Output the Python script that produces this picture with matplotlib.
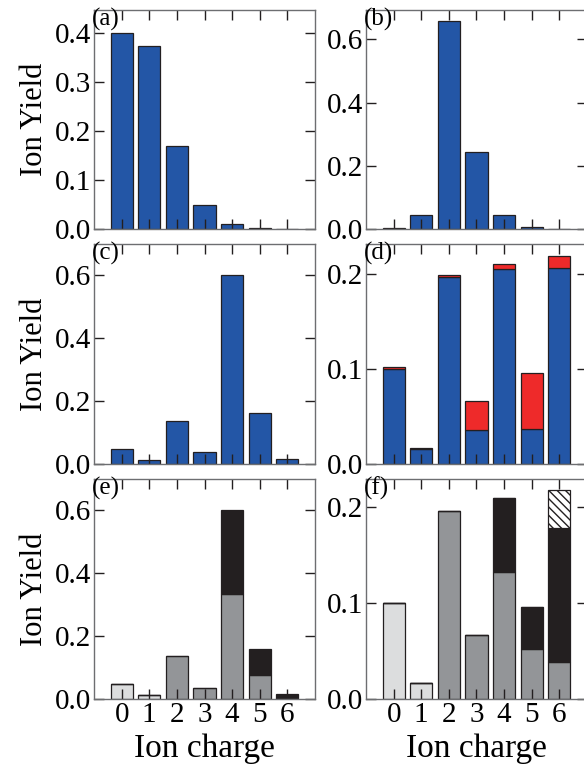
import matplotlib
matplotlib.use("Agg")
import matplotlib.pyplot as plt
import numpy as np

plt.rcParams['font.family'] = ['Liberation Serif', 'DejaVu Serif']
plt.rcParams['hatch.linewidth'] = 1.0

charges = [0, 1, 2, 3, 4, 5, 6]
charge_labels = ['0', '1', '2', '3', '4', '5', '6']

a_blue = [0.400, 0.374, 0.170, 0.049, 0.010, 0.002, 0.001]
b_blue = [0.002, 0.045, 0.657, 0.243, 0.044, 0.006, 0.001]
c_blue = [0.048, 0.013, 0.137, 0.037, 0.600, 0.161, 0.016]
d_blue = [0.100, 0.016, 0.1966, 0.0357, 0.2046, 0.0367, 0.2063]
d_red = [0.0014, 0.0006, 0.0014, 0.0303, 0.0053, 0.0588, 0.0120]

e_light = [0.049, 0.013, 0.0, 0.0, 0.0, 0.0, 0.0]
e_gray = [0.0, 0.0, 0.138, 0.036, 0.334, 0.075, 0.004]
e_black = [0.0, 0.0, 0.0, 0.0, 0.266, 0.085, 0.012]

f_light = [0.100, 0.017, 0.0, 0.0, 0.0, 0.0, 0.0]
f_gray = [0.0, 0.0, 0.196, 0.067, 0.132, 0.0525, 0.038]
f_black = [0.0, 0.0, 0.0, 0.0, 0.077, 0.0433, 0.140]
f_hatch = [0.0, 0.0, 0.0, 0.0, 0.0, 0.0, 0.0395]

BLUE = '#2356a6'
RED = '#ee2a2a'
GRAY = '#939598'
LIGHT = '#dcddde'
BLACK = '#231f20'
EDGE = '#231f20'

fig = plt.figure(figsize=(5.84, 7.79), dpi=100)

W = 584.0
H = 779.0
col_x = [94, 366]
col_w = 221
row_y = [(10, 229), (244, 464), (479, 699)]

axes = {}
names = [['a', 'b'], ['c', 'd'], ['e', 'f']]
for r in range(3):
    for c in range(2):
        top, bot = row_y[r]
        ax = fig.add_axes([col_x[c] / W, 1 - bot / H, col_w / W, (bot - top) / H])
        axes[names[r][c]] = ax

bw = 0.8
kw = dict(width=bw, edgecolor=EDGE, linewidth=0.9)

axes['a'].bar(charges, a_blue, color=BLUE, **kw)
axes['b'].bar(charges, b_blue, color=BLUE, **kw)
axes['c'].bar(charges, c_blue, color=BLUE, **kw)
axes['d'].bar(charges, d_blue, color=BLUE, **kw)
axes['d'].bar(charges, d_red, bottom=d_blue, color=RED, **kw)

axes['e'].bar(charges, e_light, color=LIGHT, **kw)
axes['e'].bar(charges, e_gray, bottom=e_light, color=GRAY, **kw)
e_b2 = np.array(e_light) + np.array(e_gray)
axes['e'].bar(charges, e_black, bottom=e_b2, color=BLACK, **kw)

axes['f'].bar(charges, f_light, color=LIGHT, **kw)
axes['f'].bar(charges, f_gray, bottom=f_light, color=GRAY, **kw)
f_b2 = np.array(f_light) + np.array(f_gray)
axes['f'].bar(charges, f_black, bottom=f_b2, color=BLACK, **kw)
f_b3 = f_b2 + np.array(f_black)
axes['f'].bar(charges, f_hatch, bottom=f_b3, color='white', hatch='\\\\\\\\', **kw)

ylims = {'a': 0.447, 'b': 0.693, 'c': 0.698, 'd': 0.231, 'e': 0.699, 'f': 0.229}
yticks = {'a': [0.0, 0.1, 0.2, 0.3, 0.4], 'b': [0.0, 0.2, 0.4, 0.6],
          'c': [0.0, 0.2, 0.4, 0.6], 'd': [0.0, 0.1, 0.2],
          'e': [0.0, 0.2, 0.4, 0.6], 'f': [0.0, 0.1, 0.2]}

for n, ax in axes.items():
    ax.set_xlim(-1.0, 7.0)
    ax.set_ylim(0, ylims[n])
    ax.set_yticks(yticks[n])
    ax.set_yticklabels(['%.1f' % v for v in yticks[n]])
    ax.set_xticks(charges)
    ax.tick_params(direction='in', length=7, width=1.0, color=BLACK,
                   top=True, right=True, labelsize=21, pad=2)
    for s in ax.spines.values():
        s.set_color('#6d6e71')
        s.set_linewidth(1.0)
    if n in ('e', 'f'):
        ax.set_xticklabels(charge_labels)
        ax.set_xlabel('Ion charge', fontsize=24, labelpad=4)
    else:
        ax.set_xticklabels([])
    if n in ('a', 'c', 'e'):
        ax.set_ylabel('Ion Yield', fontsize=22, labelpad=4)
    ax.text(-0.01, 1.01, '(%s)' % n, transform=ax.transAxes, ha='left', va='top',
            fontsize=18)

fig.savefig('out.png', dpi=100)
